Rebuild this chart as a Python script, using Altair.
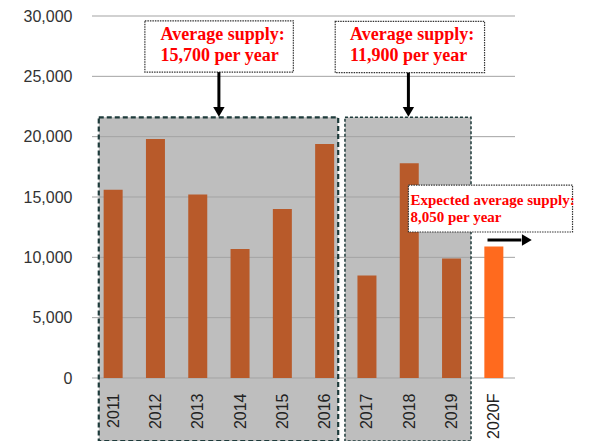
import altair as alt
import pandas as pd

# ---- data ----
years = ["2011", "2012", "2013", "2014", "2015", "2016", "2017", "2018", "2019", "2020F"]
supply = [15600, 19800, 15200, 10700, 14000, 19400, 8500, 17800, 9900, 10900]
bar_colors = ["#B85A2A"] * 9 + ["#FF6A1E"]
grid_values = [0, 5000, 10000, 15000, 20000, 25000, 30000]

# shaded periods (x in category units, top in data units)
period_x0 = [0.16, 5.98]
period_x1 = [5.82, 8.96]
period_top = [21600, 21600]

# annotation boxes
note_x0 = [1.25, 5.75, 7.48]
note_x1 = [4.76, 9.28, 11.36]
note_top = [29600, 29550, 15990]
note_bottom = [25350, 25300, 12100]

# annotation text lines
text_x = [1.62, 1.62, 6.10, 6.10, 7.53, 7.53]
text_y = [28000, 26270, 28000, 26270, 14340, 12930]
text_str = ["Average supply:", "15,700 per year",
            "Average supply:", "11,900 per year",
            "Expected average supply:", "8,050 per year"]
text_size = [18, 18, 18, 18, 15, 15]

# arrows
arrow_x = [3.0, 7.48]
arrow_y_from = [25350, 25300]
arrow_y_to = [22400, 22400]
arrow_head_y = [22050, 22050]
right_arrow_x_from = [9.35]
right_arrow_x_to = [10.15]
right_arrow_head_x = [10.28]
right_arrow_y = [11440]

W, H = 433, 362
BOTTOM = 63

bars = pd.DataFrame({"pos": [i + 0.5 for i in range(len(years))],
                     "year": years, "supply": supply, "color": bar_colors})
periods = pd.DataFrame({"x0": period_x0, "x1": period_x1, "top": period_top})
grid = pd.DataFrame({"v": grid_values})
notes = pd.DataFrame({"x0": note_x0, "x1": note_x1, "top": note_top, "bottom": note_bottom})
texts = pd.DataFrame({"x": text_x, "y": text_y, "t": text_str, "s": text_size})
arrows = pd.DataFrame({"x": arrow_x, "y0": arrow_y_from, "y1": arrow_y_to, "hy": arrow_head_y})
rarrow = pd.DataFrame({"x0": right_arrow_x_from, "x1": right_arrow_x_to,
                       "hx": right_arrow_head_x, "y": right_arrow_y})

label_list = "[" + ",".join("'" + y + "'" for y in years) + "]"
label_expr = (f"(datum.value > 6 && datum.value < 9) ? {label_list}[floor(datum.value)] + '\u00a0\u00a0' "
              f": {label_list}[floor(datum.value)]")

xscale = alt.Scale(domain=[0, 10], nice=False, zero=False)
yscale = alt.Scale(domain=[0, 30000], nice=False)

xaxis = alt.Axis(values=[i + 0.5 for i in range(10)], labelExpr=label_expr,
                 labelAngle=270, labelAlign="right", labelBaseline="middle",
                 labelPadding=15, labelFontSize=16, labelFont="Liberation Sans",
                 labelColor="#222222", grid=False, domain=False, ticks=False, title=None,
                 zindex=1)
yaxis = alt.Axis(values=grid_values, labelExpr="format(datum.value, ',.0f')", labelFontSize=16,
                 labelFont="Liberation Sans", labelColor="#333333", labelPadding=15,
                 grid=False, domain=False, ticks=False, title=None)

shade = alt.Chart(periods).mark_rect(fill="#BEBEBE").encode(
    x=alt.X("x0:Q", scale=xscale, axis=xaxis),
    x2="x1:Q",
    y=alt.Y("top:Q", scale=yscale, axis=yaxis),
    y2=alt.value(H + BOTTOM),
)

gridlines = alt.Chart(grid).mark_rule(color="#A3A3A3", strokeWidth=1).encode(
    y=alt.Y("v:Q", title=None), x=alt.datum(0), x2=alt.datum(10)
)

barl = alt.Chart(bars).mark_bar(size=19).encode(
    x=alt.X("pos:Q", title=None),
    y=alt.Y("supply:Q", title=None),
    color=alt.Color("color:N", scale=None),
)

box1 = alt.Chart(periods.iloc[[0]]).mark_rect(
    fillOpacity=0, stroke="#1E3B3B", strokeWidth=2.2, strokeDash=[5, 3]).encode(
    x="x0:Q", x2="x1:Q", y="top:Q", y2=alt.value(H + BOTTOM))
box2 = alt.Chart(periods.iloc[[1]]).mark_rect(
    fillOpacity=0, stroke="#1E3B3B", strokeWidth=1.5, strokeDash=[3, 2]).encode(
    x="x0:Q", x2="x1:Q", y="top:Q", y2=alt.value(H + BOTTOM))

note_boxes = alt.Chart(notes).mark_rect(
    fill="white", stroke="#333333", strokeWidth=1.2, strokeDash=[1.5, 1]).encode(
    x="x0:Q", x2="x1:Q", y="top:Q", y2="bottom:Q")

note_text = alt.Chart(texts).mark_text(
    align="left", baseline="alphabetic", font="Liberation Serif",
    fontWeight="bold", color="#FF0000").encode(
    x="x:Q", y="y:Q", text="t:N", size=alt.Size("s:Q", scale=None, legend=None))

arrow_lines = alt.Chart(arrows).mark_rule(color="black", strokeWidth=3).encode(
    x="x:Q", y="y0:Q", y2="y1:Q")
arrow_heads = alt.Chart(arrows).mark_point(
    shape="triangle-down", filled=True, color="black", size=130, opacity=1).encode(
    x="x:Q", y="hy:Q")
rarrow_line = alt.Chart(rarrow).mark_rule(color="black", strokeWidth=3).encode(
    x="x0:Q", x2="x1:Q", y="y:Q")
rarrow_head = alt.Chart(rarrow).mark_point(
    shape="triangle-right", filled=True, color="black", size=130, opacity=1).encode(
    x="hx:Q", y="y:Q")

chart = alt.layer(
    shade, gridlines, barl, box1, box2, note_boxes, note_text,
    arrow_lines, arrow_heads, rarrow_line, rarrow_head
).properties(
    width=W, height=H,
    autosize=alt.AutoSizeParams(type="none"),
    padding={"left": 79, "top": 8, "right": 60, "bottom": BOTTOM},
).configure_view(stroke=None)

chart.save("out.html", embed_options={"renderer": "svg", "actions": False})
